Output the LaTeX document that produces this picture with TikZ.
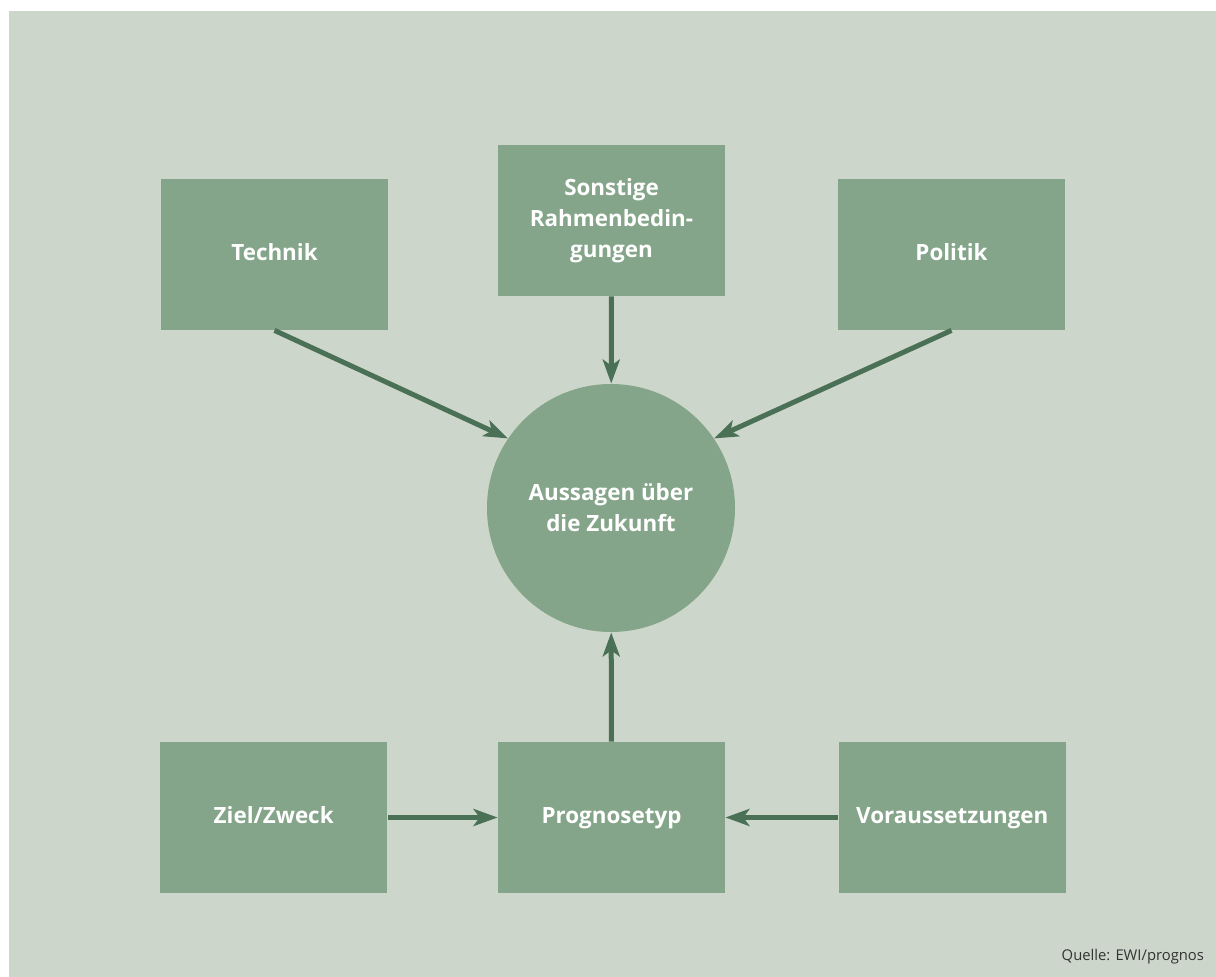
\documentclass[tikz,border=0pt]{standalone}
\usepackage{fontspec}
\setmainfont{Open Sans}
\usetikzlibrary{positioning,arrows.meta}
\definecolor{bgGreen}{HTML}{CDD6CB}
\definecolor{boxGreen}{HTML}{84A589}
\definecolor{arrGreen}{HTML}{4A7056}
\begin{document}
\begin{tikzpicture}[x=0.5pt, y=-0.5pt, node distance=55pt and 55pt,
  every node/.style={font=\bfseries\fontsize{11.2}{15.5}\selectfont, text=white},
  box/.style={fill=boxGreen, align=center, minimum width=113.5pt, minimum height=75.5pt, inner sep=0pt},
  onebox/.style={box, text height=1.6ex, text depth=0.45ex},
  circ/.style={circle, fill=boxGreen, align=center, minimum size=124pt, inner sep=0pt},
  arr/.style={draw=arrGreen, line width=2.5pt, -{Stealth[length=12pt, width=8.5pt, inset=3pt]}}]
\useasboundingbox (0,0) rectangle (1216,977);
\fill[white] (0,0) rectangle (1216,977);
\fill[bgGreen] (9,11) rectangle (1216,977);
\node[onebox] (technik) at (274.5,254.5) {Technik};
\node[box] (sonstige) at (611.5,220.5) {Sonstige\\Rahmenbedin-\\gungen};
\node[onebox] (politik) at (951.5,254.5) {Politik};
\node[circ] (zukunft) at (611,508) {Aussagen über\\die Zukunft};
\node[onebox] (prognose) at (611.5,817.5) {Prognosetyp};
\node[onebox, left=55pt of prognose] (ziel) {Ziel/Zweck};
\node[onebox, right=56.5pt of prognose] (vorauss) {Voraussetzungen};
\node[font=\fontsize{7.4}{9}\selectfont, text=black!80, anchor=base east] (quelle) at (1211,960) {Quelle: EWI/prognos};
\draw[arr] (technik.south) -- (zukunft.146); \draw[arr] (politik.south) -- (zukunft.34);
\draw[arr] (sonstige) -- (zukunft); \draw[arr] (prognose) -- (zukunft);
\draw[arr] (ziel) -- (prognose); \draw[arr] (vorauss) -- (prognose);
\end{tikzpicture}
\end{document}
